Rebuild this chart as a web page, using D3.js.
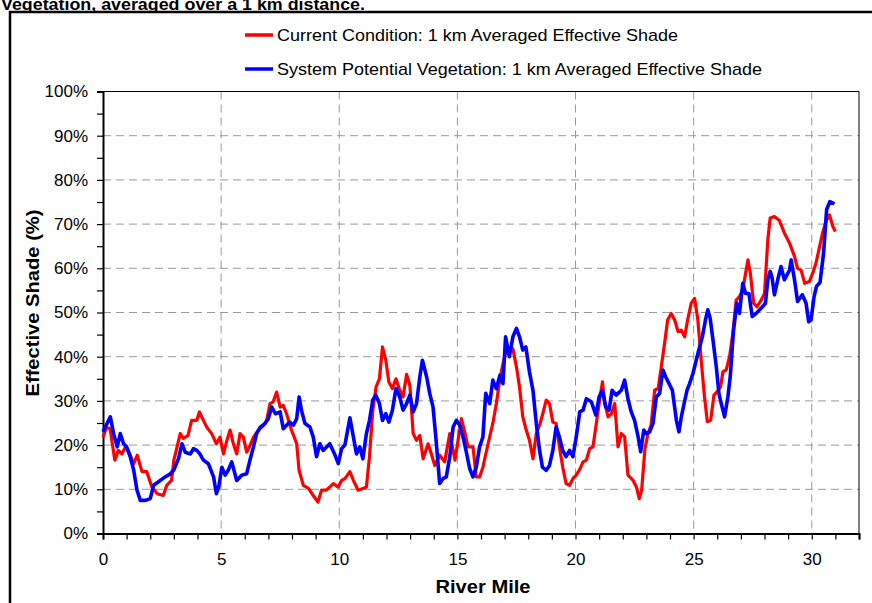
<!DOCTYPE html>
<html>
<head>
<meta charset="utf-8">
<script src="https://cdn.jsdelivr.net/npm/d3@7"></script>
<style>
  body { margin: 0; background: #fff; }
  svg { display: block; font-family: Arial, "Liberation Sans", sans-serif; }
</style>
</head>
<body>
<svg id="chart" width="872" height="603"></svg>
<script>
// river mile positions and shade values (%)
const currentMiles = [0,0.15,0.3,0.5,0.65,0.8,0.95,1.1,1.3,1.45,1.65,1.85,2.07,2.3,2.55,2.7,2.9,3.0,3.27,3.4,3.6,3.75,3.97,4.08,4.25,4.4,4.6,4.8,4.95,5.1,5.24,5.38,5.52,5.66,5.8,5.94,6.08,6.2,6.37,6.58,6.8,6.93,7.07,7.2,7.35,7.5,7.63,7.77,7.98,8.2,8.3,8.48,8.7,8.9,9.1,9.25,9.46,9.75,9.96,10.1,10.24,10.45,10.6,10.8,11.0,11.15,11.28,11.42,11.56,11.7,11.83,11.97,12.1,12.25,12.4,12.56,12.7,12.85,12.99,13.13,13.27,13.41,13.55,13.76,13.9,14.04,14.25,14.46,14.68,14.9,15.03,15.17,15.31,15.45,15.66,15.8,15.94,16.08,16.3,16.5,16.65,16.8,16.93,17.07,17.2,17.35,17.5,17.63,17.77,17.9,18.05,18.2,18.34,18.48,18.6,18.76,18.9,19.04,19.18,19.32,19.46,19.6,19.75,19.89,20.03,20.18,20.32,20.46,20.6,20.74,20.86,21.0,21.14,21.24,21.38,21.52,21.66,21.8,21.94,22.08,22.22,22.44,22.58,22.7,22.8,22.94,23.07,23.2,23.35,23.5,23.63,23.77,23.9,24.05,24.2,24.34,24.48,24.62,24.76,24.9,25.04,25.18,25.32,25.46,25.58,25.72,25.86,26.0,26.14,26.24,26.38,26.52,26.66,26.8,26.94,27.08,27.2,27.3,27.4,27.54,27.68,27.86,28.0,28.14,28.24,28.42,28.63,28.84,29.06,29.27,29.4,29.55,29.7,29.9,30.04,30.18,30.32,30.46,30.6,30.75,30.89,31.0];
const currentShade = [21.8,24,23.7,16.6,18.8,18,19.6,18.4,15.8,17.7,14,14,10.5,9,8.6,10.9,12,16.6,22.6,21.5,22.2,25.6,25.6,27.5,25.6,24,22.6,20.3,21.8,18,21,23.4,20.3,18,22.6,21.8,18.4,19.6,21.8,23.4,24.5,25.6,29.4,29.8,32,28.6,29,27.1,23.4,20.3,14.3,10.9,10.2,8.6,7.1,9.8,9.8,11.3,10.5,12,12.4,14,12,9.8,10.2,10.5,17.4,27.9,33.2,35,42.2,39.2,34.3,32.8,35,32.4,30.9,36,33.5,22.6,21.1,22.2,16.9,20.3,18,15.4,17.7,16.2,22.6,16.6,21.1,26,23,19.6,19.6,12.8,12.8,15,20.3,24.9,29.4,35,38.4,41.5,41.8,41.8,37.7,33.2,26.4,23.7,21.1,16.9,22.6,24.5,26.8,30.2,29.4,25.2,24.9,19.6,15,11.3,10.9,12.4,13.2,14.5,16.2,16.6,19.2,19.6,24.1,29.4,34.3,29.4,26.4,27.1,29.4,19.6,22.6,21.9,13.2,12,10.5,7.9,9.8,19.2,22.6,24.5,32.4,32.8,37.7,43,48.3,49.8,48.3,45.7,46,44.5,48.7,52.1,53.2,48.3,39.2,30.9,25.3,25.6,31.3,32.1,33.2,36.6,37,40,45.3,52.8,53.6,55.1,58.9,61.9,58.9,52.1,51.3,52.8,54.3,66.4,71.4,71.7,70.8,68,65.7,62.7,60,59.6,56.6,57,58.9,61.2,64.6,68,70.6,72.1,69.5,68.3];

const potentialMiles = [0,0.17,0.31,0.45,0.6,0.73,0.87,1.0,1.15,1.3,1.44,1.58,1.8,2.0,2.14,2.35,2.63,2.85,2.99,3.2,3.34,3.48,3.7,3.83,3.97,4.1,4.25,4.46,4.68,4.8,4.9,5.03,5.17,5.3,5.45,5.66,5.87,6.08,6.22,6.37,6.5,6.65,6.86,7.0,7.14,7.3,7.5,7.63,7.77,7.9,8.06,8.2,8.3,8.4,8.55,8.76,8.9,9.04,9.18,9.32,9.6,9.8,9.96,10.1,10.24,10.45,10.6,10.73,10.87,11.0,11.15,11.28,11.42,11.55,11.7,11.83,11.97,12.1,12.25,12.4,12.56,12.7,12.85,12.99,13.13,13.27,13.41,13.52,13.7,13.83,13.97,14.1,14.25,14.39,14.53,14.68,14.82,14.96,15.1,15.24,15.38,15.52,15.66,15.8,15.94,16.08,16.2,16.37,16.5,16.65,16.8,16.93,17.04,17.2,17.35,17.5,17.63,17.77,17.9,18.05,18.2,18.34,18.48,18.6,18.76,18.9,19.04,19.18,19.32,19.46,19.6,19.75,19.89,20.03,20.18,20.32,20.46,20.67,20.86,21.0,21.14,21.28,21.42,21.55,21.72,21.94,22.08,22.22,22.36,22.5,22.65,22.76,22.89,23.0,23.14,23.28,23.42,23.56,23.7,23.82,23.96,24.1,24.27,24.38,24.48,24.58,24.72,24.83,24.97,25.11,25.22,25.37,25.5,25.6,25.7,25.82,25.96,26.07,26.17,26.31,26.45,26.55,26.69,26.83,26.94,27.08,27.2,27.34,27.48,27.65,27.86,28.04,28.14,28.24,28.32,28.42,28.56,28.7,28.84,29.06,29.13,29.27,29.4,29.6,29.76,29.87,29.97,30.1,30.2,30.35,30.5,30.63,30.77,30.96];
const potentialShade = [23,24.9,26.4,22.6,19.6,22.6,20.3,19.6,17.4,14.3,9.8,7.5,7.5,7.9,10.9,11.7,12.8,13.5,14.3,17,20.3,18.4,18,19.2,18.8,18,16.6,15.8,12.8,9,10.5,15,13.2,14.3,16.2,12,13.2,13.5,16.6,19.6,22.6,24,24.9,26,28.6,27.1,27.5,23.7,24.5,25.2,24.5,26,30.9,27.9,24.9,24.1,21.8,17.4,20.3,18.8,20.3,18,15.8,19.2,20,26.2,21.8,18,19.6,16.9,22.6,25.6,30.2,31.3,29.4,25.6,27.1,25.2,27.9,32.8,30.9,27.9,29.4,31.3,27.5,29.4,35.4,39.2,35.4,31.7,28.6,21.1,11.3,12.4,12.8,17.4,24.1,25.6,24.5,21.8,18.4,14.7,12.8,15,19.6,21.8,31.7,29.4,34.7,32.8,35.8,33.9,44.5,40,44.5,46.4,44.5,41.5,42.2,36.6,32.4,24.9,18.8,15,14.3,15.4,18.8,24.1,21.8,18.8,17.4,18.8,17.4,21.8,27.5,27.9,30.5,29.8,26.8,30.9,32.4,28.7,27.9,32.4,31.3,32.4,34.7,30.5,27.5,25.6,21.9,18.5,23.4,22.6,23,24.9,30.9,31.7,37,35.4,33.9,32.4,25.6,23,26.4,29,32.4,33.9,36.2,39.2,41.5,44.5,48.3,50.6,48.7,43.8,37.7,31.7,29.4,26.4,30.9,35.5,46,52.1,49.8,56.6,54.3,54.3,49.1,49.8,51,52.1,57.4,59.3,57.9,54,57.4,60.4,57.4,59.6,61.9,57.4,52.5,54,52.1,47.9,48.3,53.6,55.9,56.8,63.4,73.3,75.1,74.6];

const seriesNames = [
  "Current Condition: 1 km Averaged Effective Shade",
  "System Potential Vegetation: 1 km Averaged Effective Shade"
];
const seriesColors = ["#ff0000", "#0000ff"];
const xTicks = [0, 5, 10, 15, 20, 25, 30];
const yTicks = [0, 10, 20, 30, 40, 50, 60, 70, 80, 90, 100];

const svg = d3.select("#chart");
const margin = {top: 91.5, right: 13, bottom: 69.5, left: 103};
const W = +svg.attr("width"), H = +svg.attr("height");
const innerW = W - margin.left - margin.right;
const innerH = H - margin.top - margin.bottom;

// outer chart frame, clipped by the page on the right and bottom
svg.append("rect")
  .attr("x", 10).attr("y", 12)
  .attr("width", 900).attr("height", 700)
  .attr("fill", "none").attr("stroke", "#000").attr("stroke-width", 2.5);

// title line cut off at the top
svg.append("text")
  .attr("x", 1).attr("y", 10)
  .attr("font-size", 17).attr("font-weight", "bold")
  .attr("textLength", 364).attr("lengthAdjust", "spacingAndGlyphs")
  .text("Vegetation, averaged over a 1 km distance.");

const x = d3.scaleLinear().domain([0, 32]).range([0, innerW]);
const y = d3.scaleLinear().domain([0, 100]).range([innerH, 0]);

const g = svg.append("g").attr("transform", `translate(${margin.left},${margin.top})`);

// gridlines
g.append("g").selectAll("line")
  .data(yTicks.filter(d => d > 0 && d < 100))
  .join("line")
  .attr("x1", 0).attr("x2", innerW)
  .attr("y1", d => y(d)).attr("y2", d => y(d))
  .attr("stroke", "#9a9a9a").attr("stroke-dasharray", "8,5");
g.append("g").selectAll("line")
  .data(xTicks.filter(d => d > 0))
  .join("line")
  .attr("x1", d => x(d)).attr("x2", d => x(d))
  .attr("y1", 0).attr("y2", innerH)
  .attr("stroke", "#9a9a9a").attr("stroke-dasharray", "8,5");

// plot border top/right
g.append("path")
  .attr("d", `M0,0H${innerW}V${innerH}`)
  .attr("fill", "none").attr("stroke", "#000").attr("stroke-width", 1);

// axes
const xAxis = g.append("g")
  .attr("transform", `translate(0,${innerH})`)
  .call(d3.axisBottom(x).tickValues(d3.range(0, 33, 1)).tickSize(6).tickFormat(""));
xAxis.select(".domain").attr("stroke-width", 2);
xAxis.selectAll(".tick line").attr("stroke-width", 1.2);
g.append("g")
  .attr("transform", `translate(0,${innerH})`)
  .call(d3.axisBottom(x).tickValues(xTicks).tickSize(0).tickPadding(19))
  .call(a => a.select(".domain").remove())
  .selectAll("text")
  .attr("font-size", 17).attr("fill", "#000")
  .attr("font-family", "Arial, 'Liberation Sans', sans-serif");

const yAxis = g.append("g")
  .call(d3.axisLeft(y).tickValues(d3.range(0, 101, 5)).tickSize(6).tickFormat(""));
yAxis.select(".domain").attr("stroke-width", 2);
yAxis.selectAll(".tick line").attr("stroke-width", 1.2);
g.append("g")
  .call(d3.axisLeft(y).tickValues(yTicks).tickSize(0).tickPadding(15).tickFormat(d => d + "%"))
  .call(a => a.select(".domain").remove())
  .selectAll("text")
  .attr("font-size", 17).attr("fill", "#000")
  .attr("font-family", "Arial, 'Liberation Sans', sans-serif");

// axis titles
svg.append("text")
  .attr("transform", `translate(39,303) rotate(-90)`)
  .attr("text-anchor", "middle")
  .attr("font-size", 19).attr("font-weight", "bold")
  .attr("textLength", 187).attr("lengthAdjust", "spacingAndGlyphs")
  .text("Effective Shade (%)");
svg.append("text")
  .attr("x", 483).attr("y", 593)
  .attr("text-anchor", "middle")
  .attr("font-size", 19).attr("font-weight", "bold")
  .attr("textLength", 95).attr("lengthAdjust", "spacingAndGlyphs")
  .text("River Mile");

// series
const line = d3.line().x(d => x(d[0])).y(d => y(d[1]));
const series = [
  d3.zip(currentMiles, currentShade),
  d3.zip(potentialMiles, potentialShade)
];
series.forEach((s, i) => {
  g.append("path")
    .datum(s)
    .attr("d", line)
    .attr("fill", "none")
    .attr("stroke", seriesColors[i])
    .attr("stroke-width", i === 0 ? 3.2 : 3.6)
    .attr("stroke-linejoin", "round");
});

// legend
const legendWidths = [401, 485];
const legend = svg.append("g");
seriesNames.forEach((name, i) => {
  const ly = 35 + i * 34;
  legend.append("line")
    .attr("x1", 245).attr("x2", 273)
    .attr("y1", ly).attr("y2", ly)
    .attr("stroke", seriesColors[i]).attr("stroke-width", 3.5);
  legend.append("text")
    .attr("x", 277).attr("y", ly)
    .attr("dy", "0.36em")
    .attr("font-size", 17)
    .attr("textLength", legendWidths[i]).attr("lengthAdjust", "spacingAndGlyphs")
    .text(name);
});
</script>
</body>
</html>
